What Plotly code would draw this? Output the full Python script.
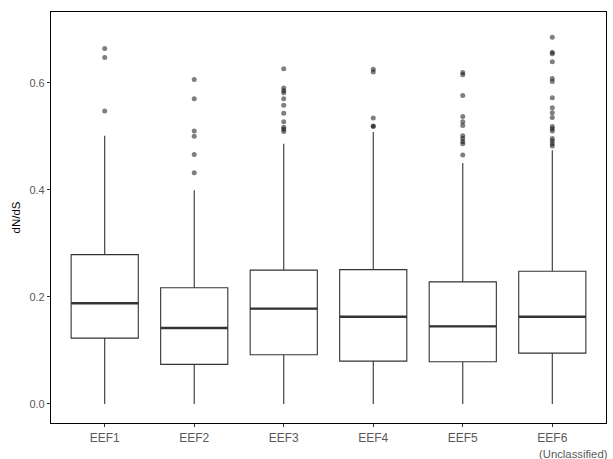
import plotly.graph_objects as go

categories = ["EEF1", "EEF2", "EEF3", "EEF4", "EEF5", "EEF6\n(Unclassified)"]
lower_fence = [0.0, 0.0, 0.0, 0.0, 0.0, 0.0]
q1 = [0.123, 0.074, 0.092, 0.080, 0.079, 0.095]
median = [0.188, 0.142, 0.178, 0.163, 0.145, 0.163]
q3 = [0.279, 0.217, 0.250, 0.251, 0.228, 0.248]
upper_fence = [0.501, 0.399, 0.486, 0.508, 0.450, 0.474]
outliers = [
    [0.664, 0.647, 0.547],
    [0.606, 0.570, 0.510, 0.500, 0.466, 0.432],
    [0.626, 0.590, 0.585, 0.581, 0.570, 0.558, 0.543, 0.527, 0.517, 0.513, 0.509],
    [0.625, 0.620, 0.534, 0.519, 0.518],
    [0.619, 0.615, 0.576, 0.537, 0.527, 0.520, 0.501, 0.496, 0.490, 0.486, 0.465],
    [0.685, 0.657, 0.654, 0.639, 0.608, 0.602, 0.572, 0.553, 0.544, 0.535,
     0.518, 0.514, 0.510, 0.496, 0.491, 0.486, 0.482],
]
y_ticks = [0.0, 0.2, 0.4, 0.6]
box_width = 0.75

idx = list(range(len(categories)))
first_lines = [c.split("\n")[0] for c in categories]

fig = go.Figure()
fig.add_trace(go.Box(
    x=idx, q1=q1, median=median, q3=q3,
    lowerfence=lower_fence, upperfence=upper_fence,
    width=box_width, whiskerwidth=0,
    fillcolor="white", line=dict(color="#333333", width=1.1),
    boxpoints=False, showlegend=False, hoverinfo="skip",
))

# thicker median bars (ggplot style)
mx, my = [], []
for i, m in zip(idx, median):
    mx += [i - box_width / 2, i + box_width / 2, None]
    my += [m, m, None]
fig.add_trace(go.Scatter(x=mx, y=my, mode="lines",
                         line=dict(color="#333333", width=2.4),
                         showlegend=False, hoverinfo="skip"))

ox, oy = [], []
for i, vals in zip(idx, outliers):
    ox += [i] * len(vals)
    oy += vals
fig.add_trace(go.Scatter(x=ox, y=oy, mode="markers",
                         marker=dict(color="rgba(0,0,0,0.5)", size=5, line=dict(width=0)),
                         showlegend=False, hoverinfo="skip"))

# second line of multi-line category labels (left-aligned with first line)
for i, c in zip(idx, categories):
    parts = c.split("\n")
    if len(parts) > 1:
        fig.add_annotation(
            x=i, xref="x", y=0, yref="paper",
            text=parts[1], showarrow=False,
            xanchor="left", yanchor="middle", xshift=-15, yshift=-31,
            font=dict(size=11.3, color="#595959"),
        )

fig.update_layout(
    width=613, height=459,
    template="none",
    paper_bgcolor="white", plot_bgcolor="white",
    margin=dict(l=51, r=7, t=12, b=36),
    font=dict(family="Liberation Sans, Arial, sans-serif", color="#595959"),
    xaxis=dict(
        range=[-0.6, 5.6], tickvals=idx, ticktext=first_lines,
        showgrid=False, zeroline=False, automargin=False,
        showline=True, linecolor="black", linewidth=1.2, mirror=True,
        ticks="outside", ticklen=3, tickcolor="#333333", tickwidth=1,
        tickfont=dict(size=12, color="#595959"),
    ),
    yaxis=dict(
        range=[-0.0355, 0.732], tickvals=y_ticks,
        ticktext=[f"{v:.1f}" for v in y_ticks],
        showgrid=False, zeroline=False, automargin=False,
        showline=True, linecolor="black", linewidth=1.2, mirror=True,
        ticks="outside", ticklen=3, tickcolor="#333333", tickwidth=1,
        tickfont=dict(size=11, color="#595959"),
        title=dict(text="dN/dS", font=dict(size=11.5, color="black"), standoff=6),
    ),
)

fig.write_html("out.html")
